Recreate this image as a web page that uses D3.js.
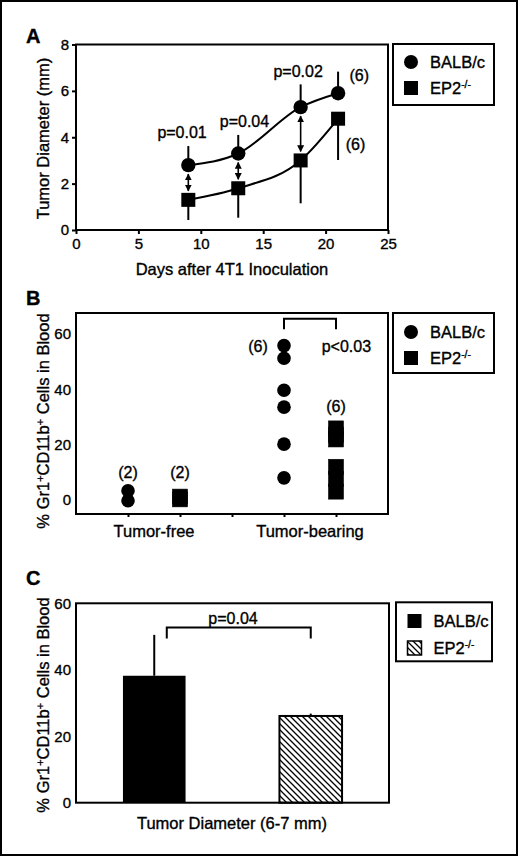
<!DOCTYPE html>
<html><head><meta charset="utf-8">
<script src="https://cdn.jsdelivr.net/npm/d3@7"></script>
<style>
html,body{margin:0;padding:0;background:#fff;}
svg text{font-family:"Liberation Sans",Arial,Helvetica,sans-serif;fill:#000;stroke:#000;stroke-width:0.35px;}
</style></head><body>
<svg id="chart" width="520" height="857"></svg>
<script>
// ---------- Panel A data ----------
const daysA = [9, 13, 18, 21];
const balbA = [2.8, 3.3, 5.3, 5.9];
const balbErrA = [0.82, 0.8, 0.98, 0.93];   // upward SD
const ep2A = [1.3, 1.8, 3.0, 4.8];
const ep2ErrA = [0.87, 1.27, 1.85, 1.78];   // downward SD
const pLabelsA = ["p=0.01", "p=0.04", "p=0.02"];
const pDaysA = [9, 13, 18];
const nLabelsA = ["(6)", "(6)"];
const xTicksA = [0, 5, 10, 15, 20, 25];
const yTicksA = [0, 2, 4, 6, 8];

// ---------- Panel B data ----------
const groupsB = ["Tumor-free", "Tumor-bearing"];
const balbFreeB = [3.2, -0.4];
const ep2FreeB = [1.1, 0.1];
const balbBearB = [55.8, 51.2, 39.6, 33.5, 20.1, 7.9];
const ep2BearB = [25.8, 23.5, 21.8, 11.9, 7.5, 2.9];
const nLabelsB = ["(2)", "(2)", "(6)", "(6)"];
const pLabelB = "p<0.03";
const yTicksB = [0, 20, 40, 60];

// ---------- Panel C data ----------
const seriesC = ["BALB/c", "EP2"];
const valuesC = [38.2, 26.1];
const errC = [12.3, 0.7];
const pLabelC = "p=0.04";
const yTicksC = [0, 20, 40, 60];

const svg = d3.select("#chart");
const defs = svg.append("defs");
defs.append("marker").attr("id","arrow").attr("viewBox","0 0 10 10")
  .attr("refX",9).attr("refY",5).attr("markerWidth",7).attr("markerHeight",7)
  .attr("markerUnits","userSpaceOnUse").attr("orient","auto-start-reverse")
  .append("path").attr("d","M0,0 L10,5 L0,10 Z").attr("fill","#000");
const hw = 6;
defs.append("pattern").attr("id","hatch").attr("patternUnits","userSpaceOnUse")
  .attr("width",hw).attr("height",hw)
  .append("path")
  .attr("d",`M0,0 l${hw},${hw} M${-hw/4},${3*hw/4} l${hw/2},${hw/2} M${3*hw/4},${-hw/4} l${hw/2},${hw/2}`)
  .attr("stroke","#000").attr("stroke-width",1.3);

// outer border
svg.append("rect").attr("x",1).attr("y",1).attr("width",516).attr("height",854)
  .attr("fill","none").attr("stroke","#000").attr("stroke-width",2);

function panelLetter(t, x, y){
  svg.append("text").attr("x",x).attr("y",y).attr("font-size",20).attr("font-weight","bold").text(t);
}
function frame(x0,y0,x1,y1){
  svg.append("rect").attr("x",x0).attr("y",y0).attr("width",x1-x0).attr("height",y1-y0)
    .attr("fill","none").attr("stroke","#000").attr("stroke-width",2);
}
function ep2Text(sel, size){
  sel.append("tspan").text("EP2");
  sel.append("tspan").attr("dy",-6).attr("font-size",size*0.62).text("-/-");
}
function legend(x0,y0,w,h,items){
  frame(x0,y0,x0+w,y0+h);
  items.forEach((it,i)=>{
    const cy = it.y;
    if(it.shape==="circle"){
      svg.append("circle").attr("cx",it.x).attr("cy",cy).attr("r",7).attr("fill","#000");
    } else {
      svg.append("rect").attr("x",it.x-7).attr("y",cy-7).attr("width",14).attr("height",14)
        .attr("fill",it.fill||"#000").attr("stroke","#000").attr("stroke-width",it.fill?1.5:0);
    }
    const t = svg.append("text").attr("x",it.x+19).attr("y",cy+6).attr("font-size",16.5);
    if(it.label==="EP2") ep2Text(t,16.5); else t.text(it.label);
  });
}
function yTitle(cx, cy, plain){
  const t = svg.append("text").attr("transform",`translate(${cx},${cy}) rotate(-90)`)
    .attr("text-anchor","middle").attr("font-size",16.5);
  if(plain){ t.text(plain); return; }
  t.append("tspan").text("% Gr1");
  t.append("tspan").attr("dy",-5).attr("font-size",11).text("+");
  t.append("tspan").attr("dy",5).text("CD11b");
  t.append("tspan").attr("dy",-5).attr("font-size",11).text("+");
  t.append("tspan").attr("dy",5).text(" Cells in Blood");
}
function styleAxis(g){
  g.select(".domain").remove();
  g.selectAll(".tick line").attr("stroke","#000").attr("stroke-width",2);
  g.selectAll(".tick text").attr("font-size",15).attr("fill","#000")
    .attr("font-family","'Liberation Sans',Arial,sans-serif");
}

// ================= Panel A =================
const xA = d3.scaleLinear().domain([0,25]).range([76,388]);
const yA = d3.scaleLinear().domain([0,8]).range([230,44.5]);
panelLetter("A", 26, 43);
svg.append("g").attr("transform","translate(0,230)")
  .call(d3.axisBottom(xA).tickValues(xTicksA).tickSize(4).tickPadding(4)).call(styleAxis);
svg.append("g").attr("transform","translate(76,0)")
  .call(d3.axisLeft(yA).tickValues(yTicksA).tickSize(4).tickPadding(3)).call(styleAxis);
frame(76,44.5,388,230);
svg.append("text").attr("x",232).attr("y",275).attr("text-anchor","middle").attr("font-size",16.5)
  .text("Days after 4T1 Inoculation");
yTitle(49,138.5,"Tumor Diameter (mm)");

// error bars
daysA.forEach((d,i)=>{
  svg.append("line").attr("x1",xA(d)).attr("x2",xA(d)).attr("y1",yA(balbA[i])).attr("y2",yA(balbA[i]+balbErrA[i]))
    .attr("stroke","#000").attr("stroke-width",2);
  svg.append("line").attr("x1",xA(d)).attr("x2",xA(d)).attr("y1",yA(ep2A[i])).attr("y2",yA(ep2A[i]-ep2ErrA[i]))
    .attr("stroke","#000").attr("stroke-width",2);
});
const lineA = d3.line().x(d=>xA(d[0])).y(d=>yA(d[1])).curve(d3.curveMonotoneX);
svg.append("path").attr("d",lineA(daysA.map((d,i)=>[d,balbA[i]]))).attr("fill","none").attr("stroke","#000").attr("stroke-width",2);
svg.append("path").attr("d",lineA(daysA.map((d,i)=>[d,ep2A[i]]))).attr("fill","none").attr("stroke","#000").attr("stroke-width",2);
daysA.forEach((d,i)=>{
  svg.append("circle").attr("cx",xA(d)).attr("cy",yA(balbA[i])).attr("r",7.2).attr("fill","#000");
  svg.append("rect").attr("x",xA(d)-7).attr("y",yA(ep2A[i])-7).attr("width",14).attr("height",14).attr("fill","#000");
});
// double arrows
pDaysA.forEach(d=>{
  const i = daysA.indexOf(d);
  svg.append("line").attr("x1",xA(d)).attr("x2",xA(d))
    .attr("y1",yA(balbA[i])+9).attr("y2",yA(ep2A[i])-9)
    .attr("stroke","#000").attr("stroke-width",1.6)
    .attr("marker-start","url(#arrow)").attr("marker-end","url(#arrow)");
});
const pPosA = [[8.5,3.95],[13.5,4.45],[17.8,6.58]];
pLabelsA.forEach((p,i)=>{
  svg.append("text").attr("x",xA(pPosA[i][0])).attr("y",yA(pPosA[i][1])).attr("text-anchor","middle")
    .attr("font-size",16).text(p);
});
svg.append("text").attr("x",xA(22.7)).attr("y",yA(6.42)).attr("text-anchor","middle").attr("font-size",16).text(nLabelsA[0]);
svg.append("text").attr("x",xA(22.4)).attr("y",yA(3.45)).attr("text-anchor","middle").attr("font-size",16).text(nLabelsA[1]);
legend(393,44,101,61,[
  {shape:"circle",x:411,y:62,label:"BALB/c"},
  {shape:"square",x:411,y:88,label:"EP2"}
]);

// ================= Panel B =================
const xB = d3.scaleLinear().domain([0,6]).range([76,388]);
const yB = d3.scaleLinear().domain([-5.2,67.6]).range([514,313]);
panelLetter("B", 26, 305);
svg.append("g").attr("transform","translate(0,514)")
  .call(d3.axisBottom(xB).tickValues([1,2,3,4,5]).tickFormat("").tickSize(3)).call(styleAxis);
svg.append("g").attr("transform","translate(76,0)")
  .call(d3.axisLeft(yB).tickValues(yTicksB).tickSize(0).tickPadding(5)).call(styleAxis);
frame(76,313,388,514);
groupsB.forEach((g,i)=>{
  svg.append("text").attr("x",xB(i*3+1.5)).attr("y",537).attr("text-anchor","middle").attr("font-size",16.5).text(g);
});
yTitle(49,421,null);
const ptsB = [
  {pos:1, vals:balbFreeB, shape:"circle"},
  {pos:2, vals:ep2FreeB, shape:"square"},
  {pos:4, vals:balbBearB, shape:"circle"},
  {pos:5, vals:ep2BearB, shape:"square"}
];
ptsB.forEach(s=>{
  s.vals.forEach(v=>{
    if(s.shape==="circle")
      svg.append("circle").attr("cx",xB(s.pos)).attr("cy",yB(v)).attr("r",6.8).attr("fill","#000");
    else
      svg.append("rect").attr("x",xB(s.pos)-7.5).attr("y",yB(v)-7.5).attr("width",15).attr("height",15)
        .attr("fill","#000").attr("stroke","#000").attr("stroke-width",0.6);
  });
});
svg.append("text").attr("x",xB(1)).attr("y",yB(7.8)).attr("text-anchor","middle").attr("font-size",16).text(nLabelsB[0]);
svg.append("text").attr("x",xB(2)).attr("y",yB(7.8)).attr("text-anchor","middle").attr("font-size",16).text(nLabelsB[1]);
svg.append("text").attr("x",xB(4)-26).attr("y",yB(53.5)).attr("text-anchor","middle").attr("font-size",16).text(nLabelsB[2]);
svg.append("text").attr("x",xB(5)).attr("y",yB(31.8)).attr("text-anchor","middle").attr("font-size",16).text(nLabelsB[3]);
svg.append("path").attr("d",`M${xB(4)},${yB(61.7)} V${yB(65.5)} H${xB(5)} V${yB(61.7)}`)
  .attr("fill","none").attr("stroke","#000").attr("stroke-width",2);
svg.append("text").attr("x",xB(5.2)).attr("y",yB(53.5)).attr("text-anchor","middle").attr("font-size",16).text(pLabelB);
legend(393,313,101,60,[
  {shape:"circle",x:411,y:332,label:"BALB/c"},
  {shape:"square",x:411,y:358,label:"EP2"}
]);

// ================= Panel C =================
const xC = d3.scaleBand().domain(seriesC).range([76,389]).paddingInner(0.6).paddingOuter(0.3);
const yC = d3.scaleLinear().domain([0,60]).range([802.7,603.3]);
panelLetter("C", 26, 585);
svg.append("g").attr("transform","translate(76,0)")
  .call(d3.axisLeft(yC).tickValues(yTicksC).tickSize(0).tickPadding(5)).call(styleAxis);
yTitle(49,705,null);
seriesC.forEach((s,i)=>{
  const cx = xC(s)+xC.bandwidth()/2;
  svg.append("line").attr("x1",cx).attr("x2",cx).attr("y1",yC(valuesC[i])).attr("y2",yC(valuesC[i]+errC[i]))
    .attr("stroke","#000").attr("stroke-width",2);
  svg.append("rect").attr("x",xC(s)).attr("y",yC(valuesC[i])).attr("width",xC.bandwidth())
    .attr("height",yC(0)-yC(valuesC[i]))
    .attr("fill", i===0 ? "#000" : "url(#hatch)")
    .attr("stroke","#000").attr("stroke-width",i===0?0:2);
});
frame(76,603.3,389,802.7);
svg.append("path").attr("d",`M${xC("BALB/c")+xC.bandwidth()*0.7},${yC(49.4)} V${yC(52.7)} H${xC("EP2")+xC.bandwidth()/2} V${yC(49.4)}`)
  .attr("fill","none").attr("stroke","#000").attr("stroke-width",2);
svg.append("text").attr("x",233).attr("y",yC(53.7)).attr("text-anchor","middle").attr("font-size",16).text(pLabelC);
svg.append("text").attr("x",232).attr("y",829).attr("text-anchor","middle").attr("font-size",16.5).text("Tumor Diameter (6-7 mm)");
legend(396,602.3,96,59,[
  {shape:"square",x:414.5,y:621,label:"BALB/c"},
  {shape:"square",x:414.5,y:648,label:"EP2",fill:"url(#hatch)"}
]);
</script>
</body></html>
